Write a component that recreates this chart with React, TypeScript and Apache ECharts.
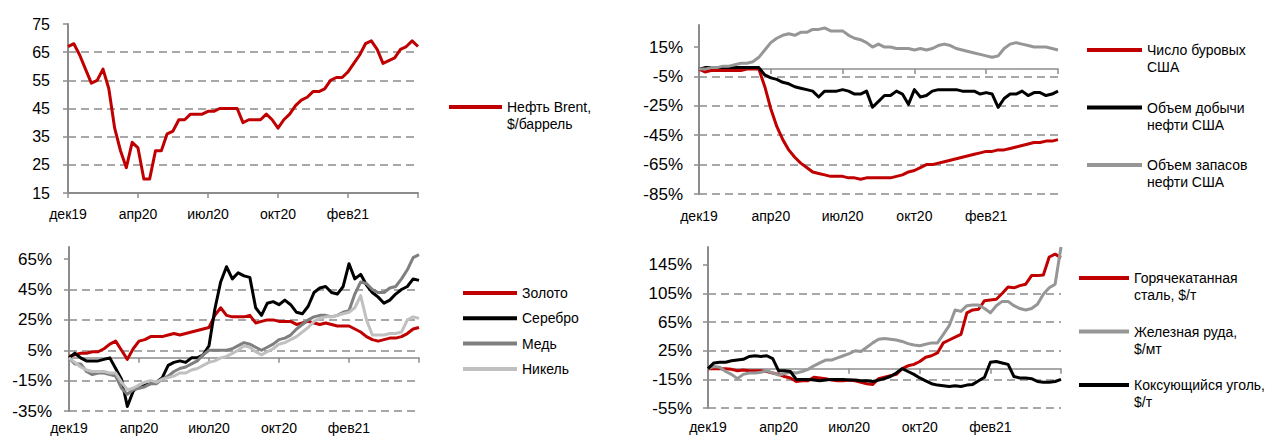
import React, { useEffect, useRef } from "react";
import * as echarts from "echarts";

// ---------- data ----------
const TICK_LABELS = ["дек19", "апр20", "июл20", "окт20", "фев21", ""];
const STEP = 12; // points between labelled ticks
const CATEGORIES = Array.from({ length: 61 }, (_, i) => String(i));

const Y_TICKS_TL = [15, 25, 35, 45, 55, 65, 75];
const Y_TICKS_TR = [-85, -65, -45, -25, -5, 15];
const Y_TICKS_BL = [-35, -15, 5, 25, 45, 65];
const Y_TICKS_BR = [-55, -15, 25, 65, 105, 145];

const BRENT = [67, 68, 64, 59, 54, 55, 59, 52, 38, 30, 24, 33, 31, 20, 20, 30, 30, 36, 37, 41, 41, 43, 43, 43, 44, 44, 45, 45, 45, 45, 40, 41, 41, 41, 43, 41, 38, 41, 43, 46, 48, 49, 51, 51, 52, 55, 56, 56, 58, 61, 64, 68, 69, 66, 61, 62, 63, 66, 67, 69, 67];

const RIGS = [0, -2, -1, -1, -1, -1, -1, -1, 0, 0, 0, -12, -27, -39, -48, -55, -60, -64, -67, -70, -71, -72, -73, -73, -73, -74, -74, -75, -74, -74, -74, -74, -74, -73, -72, -70, -69, -67, -65, -65, -64, -63, -62, -61, -60, -59, -58, -57, -56, -56, -55, -55, -54, -53, -52, -51, -50, -50, -49, -49, -48];
const PRODUCTION = [0, 1, 1, 1, 1, 1, 1, 1, 1, 1, 1, -4, -6, -7, -9, -10, -12, -13, -14, -15, -19, -15, -15, -15, -14, -15, -17, -17, -15, -26, -22, -18, -18, -15, -17, -24, -14, -19, -18, -15, -14, -14, -14, -14, -15, -15, -15, -17, -16, -17, -26, -20, -17, -17, -15, -18, -16, -16, -18, -17, -15];
const STOCKS = [0, 0, 1, 1, 2, 2, 3, 4, 4, 5, 8, 13, 18, 21, 23, 24, 23, 25, 25, 27, 27, 28, 26, 26, 26, 23, 21, 20, 18, 15, 17, 15, 15, 14, 14, 14, 13, 14, 13, 14, 16, 17, 16, 14, 13, 12, 11, 10, 9, 8, 9, 14, 17, 18, 17, 16, 15, 15, 15, 14, 13];

const GOLD = [1, 2, 3, 3, 4, 4, 6, 9, 11, 5, -1, 6, 11, 12, 14, 14, 14, 15, 16, 15, 16, 17, 18, 19, 20, 28, 33, 28, 27, 27, 27, 28, 23, 24, 25, 25, 24, 24, 24, 22, 23, 24, 23, 22, 23, 22, 21, 21, 21, 19, 17, 14, 12, 11, 12, 13, 13, 14, 16, 19, 20];
const SILVER = [0, 3, 0, -2, -2, -2, -1, 0, -7, -14, -32, -22, -18, -18, -17, -16, -13, -5, -3, -2, -3, 0, 0, 2, 8, 32, 50, 60, 52, 56, 54, 53, 33, 28, 36, 37, 35, 38, 35, 30, 29, 34, 43, 46, 47, 43, 42, 47, 62, 52, 55, 48, 43, 40, 36, 38, 42, 45, 47, 52, 51];
const COPPER = [0, -4, -4, -9, -11, -10, -10, -11, -12, -20, -24, -21, -20, -19, -17, -17, -14, -12, -9, -7, -6, -4, -2, 2, 5, 5, 5, 5, 6, 8, 10, 9, 7, 5, 7, 9, 12, 13, 15, 19, 22, 25, 27, 28, 28, 27, 28, 30, 31, 42, 50, 49, 45, 43, 43, 46, 47, 52, 58, 66, 68];
const NICKEL = [0, -3, -6, -8, -9, -9, -9, -10, -10, -16, -21, -20, -18, -16, -15, -16, -14, -13, -12, -10, -10, -8, -7, -5, -3, -2, 0, 1, 3, 5, 8, 7, 4, 2, 4, 6, 9, 10, 12, 14, 17, 20, 24, 26, 27, 27, 28, 29, 30, 33, 41, 25, 15, 15, 15, 16, 16, 17, 25, 27, 26];

const STEEL = [0, 0, 0, 0, -1, -3, -2, -3, -3, -3, -4, -6, -8, -11, -13, -18, -17, -17, -12, -13, -14, -16, -17, -17, -16, -17, -19, -21, -22, -14, -12, -10, -8, 0, 4, 6, 10, 16, 18, 22, 36, 40, 44, 48, 78, 82, 83, 95, 96, 97, 105, 114, 113, 116, 118, 130, 130, 131, 156, 160, 155];
const IRON = [0, 3, 2, -4, -8, -14, -8, -6, -6, -5, -3, -6, -9, -7, -5, -6, -4, -1, 4, 8, 12, 12, 15, 18, 21, 25, 24, 30, 36, 41, 42, 41, 40, 38, 35, 33, 32, 34, 36, 36, 48, 60, 82, 80, 88, 89, 89, 84, 78, 88, 94, 94, 88, 84, 82, 84, 90, 104, 113, 118, 170];
const COAL = [0, 8, 9, 9, 11, 12, 13, 17, 18, 17, 18, 14, -3, -3, -4, -15, -15, -15, -16, -17, -16, -15, -15, -15, -16, -16, -17, -17, -18, -16, -14, -11, -6, 0, -4, -8, -13, -17, -21, -23, -24, -25, -24, -25, -23, -22, -17, -12, 9, 10, 8, 6, -11, -13, -13, -14, -18, -19, -19, -18, -15];

const N_BRENT = "Нефть Brent,\n$/баррель";
const N_RIGS = "Число буровых\nСША";
const N_PROD = "Объем добычи\nнефти США";
const N_STOCKS = "Объем запасов\nнефти США";
const N_GOLD = "Золото";
const N_SILVER = "Серебро";
const N_COPPER = "Медь";
const N_NICKEL = "Никель";
const N_STEEL = "Горячекатанная\nсталь, $/т";
const N_IRON = "Железная руда,\n$/мт";
const N_COAL = "Коксующийся уголь,\n$/т";

// ---------- styles ----------
const FONT = 'Arial, "Liberation Sans", sans-serif';
const AXIS = "#8c8c8c";
const GRID_LINE = "#8c8c8c";
const RED = "#C00000";
const BLACK = "#000000";
const MID_GRAY = "#969696";
const DARK_GRAY = "#7f7f7f";
const LIGHT_GRAY = "#c0c0c0";

const xLabel = (margin: number) => ({
  show: true,
  interval: STEP - 1,
  formatter: (_v: string, i: number) => TICK_LABELS[Math.round(i / STEP)] || "",
  fontSize: 14,
  color: "#000",
  fontFamily: FONT,
  margin,
});

const mainX = (gridIndex: number, atZero: boolean, margin: number) => ({
  type: "category",
  gridIndex,
  data: CATEGORIES,
  boundaryGap: false,
  position: "bottom",
  axisLine: { show: true, onZero: atZero, lineStyle: { color: AXIS, width: atZero ? 1.5 : 2 } },
  axisTick: { show: true, interval: STEP - 1, length: 5, lineStyle: { color: AXIS, width: 1.5 } },
  axisLabel: atZero ? { show: false } : xLabel(margin),
  splitLine: { show: false },
});

const labelX = (gridIndex: number, margin: number) => ({
  type: "category",
  gridIndex,
  data: CATEGORIES,
  boundaryGap: false,
  position: "bottom",
  axisLine: { show: false, onZero: false },
  axisTick: { show: false },
  axisLabel: xLabel(margin),
  splitLine: { show: false },
});

const yAx = (
  gridIndex: number,
  min: number,
  max: number,
  interval: number,
  ticks: number[],
  pct: boolean,
  fontSize: number,
  margin: number
) => ({
  type: "value",
  gridIndex,
  min,
  max,
  interval,
  axisLine: { show: true, onZero: false, lineStyle: { color: AXIS, width: 2 } },
  axisTick: { show: true, length: 5, customValues: ticks, lineStyle: { color: AXIS, width: 1.5 } },
  axisLabel: {
    customValues: ticks,
    formatter: pct ? "{value}%" : "{value}",
    fontSize,
    color: "#000",
    fontFamily: FONT,
    margin,
  },
  splitLine: {
    show: true,
    showMaxLine: false,
    lineStyle: { color: GRID_LINE, width: 1.5, type: [8, 5] },
  },
});

const line = (name: string, data: number[], color: string, axis: number, xAxis: number) => ({
  type: "line",
  name,
  data,
  xAxisIndex: xAxis,
  yAxisIndex: axis,
  showSymbol: false,
  symbol: "none",
  silent: true,
  lineStyle: { color, width: 3, join: "round" },
  itemStyle: { color },
  emphasis: { disabled: true },
});

const legendText = { fontSize: 14, lineHeight: 17, color: "#000", fontFamily: FONT };

// two-line names: an empty leading line puts the first text line level with the icon
const legend = (left: number, top: number, gap: number, w: number, data: string[], twoLine: boolean) => ({
  orient: "vertical",
  left,
  top,
  padding: 0,
  itemGap: gap,
  itemWidth: w,
  itemHeight: 4,
  icon: "rect",
  selectedMode: false,
  data,
  textStyle: legendText,
  formatter: twoLine ? (name: string) => "\n" + name : undefined,
});

export default function App() {
  const ref = useRef<HTMLDivElement>(null);
  useEffect(() => {
    document.body.style.margin = "0";
    if (!ref.current) return;
    const chart = echarts.init(ref.current, undefined, { renderer: "svg" });
    const option: any = {
      animation: false,
      backgroundColor: "#ffffff",
      grid: [
        { left: 68, top: 24, width: 350, height: 169, outerBoundsMode: "none" },
        { left: 699, top: 25, width: 359, height: 169, outerBoundsMode: "none" },
        { left: 69, top: 247, width: 350, height: 164, outerBoundsMode: "none" },
        { left: 708, top: 247, width: 353, height: 161, outerBoundsMode: "none" },
      ],
      xAxis: [
        mainX(0, false, 14),
        mainX(1, true, 0),
        labelX(1, 15),
        mainX(2, true, 0),
        labelX(2, 10),
        mainX(3, true, 0),
        labelX(3, 12),
      ],
      yAxis: [
        yAx(0, 15, 75, 10, Y_TICKS_TL, false, 16, 18),
        yAx(1, -85, 30, 20, Y_TICKS_TR, true, 17, 16),
        yAx(2, -35, 73, 20, Y_TICKS_BL, true, 17, 17),
        yAx(3, -55, 170, 40, Y_TICKS_BR, true, 17, 16),
      ],
      legend: [
        legend(449, 81.5, 0, 53, [N_BRENT], true),
        legend(1087, 24.5, 6.5, 55, [N_RIGS, N_PROD, N_STOCKS], true),
        legend(463, 284.5, 8.3, 54, [N_GOLD, N_SILVER, N_COPPER, N_NICKEL], false),
        legend(1079, 252.5, 2.5, 50, [N_STEEL, N_IRON, N_COAL], true),
      ],
      series: [
        line(N_BRENT, BRENT, RED, 0, 0),
        line(N_RIGS, RIGS, RED, 1, 1),
        line(N_PROD, PRODUCTION, BLACK, 1, 1),
        line(N_STOCKS, STOCKS, MID_GRAY, 1, 1),
        line(N_GOLD, GOLD, RED, 2, 3),
        line(N_SILVER, SILVER, BLACK, 2, 3),
        line(N_COPPER, COPPER, DARK_GRAY, 2, 3),
        line(N_NICKEL, NICKEL, LIGHT_GRAY, 2, 3),
        line(N_STEEL, STEEL, RED, 3, 5),
        line(N_IRON, IRON, MID_GRAY, 3, 5),
        line(N_COAL, COAL, BLACK, 3, 5),
      ],
    };
    chart.setOption(option);
    return () => chart.dispose();
  }, []);
  return (
    <div
      ref={ref}
      style={{ position: "absolute", left: 0, top: 0, width: 1269, height: 437, background: "#fff" }}
    />
  );
}
